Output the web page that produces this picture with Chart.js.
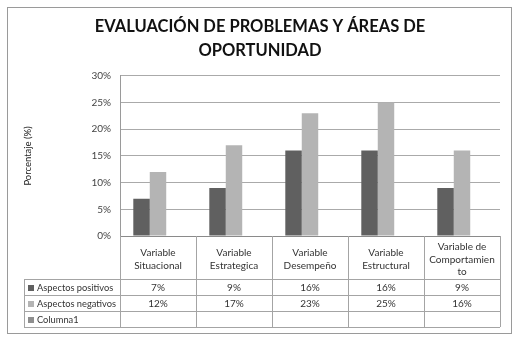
<!DOCTYPE html>
<html>
<head>
<meta charset="utf-8">
<script src="https://cdn.jsdelivr.net/npm/chart.js@4"></script>
<style>
  body { margin: 0; background: #fff; }
  canvas { display: block; }
</style>
</head>
<body>
<canvas id="chart" width="519" height="342"></canvas>
<script>
// Chart data
const categories = [
    ['Variable', 'Situacional'],
    ['Variable', 'Estrategica'],
    ['Variable', 'Desempeño'],
    ['Variable', 'Estructural'],
    ['Variable de', 'Comportamien', 'to']
];
const seriesNames = ['Aspectos positivos', 'Aspectos negativos', 'Columna1'];
const positivos = [7, 9, 16, 16, 9];
const negativos = [12, 17, 23, 25, 16];
const columna1 = [null, null, null, null, null];
const seriesColors = ['#606060', '#b4b4b4', '#8e8e8e'];
const yMin = 0, yMax = 30, yStep = 5;

const FONT = 'Lato, "Liberation Sans", sans-serif';

// White background and outer frame
const framePlugin = {
    id: 'frame',
    beforeDraw(chart) {
        const ctx = chart.ctx;
        ctx.save();
        ctx.fillStyle = '#fff';
        ctx.fillRect(0, 0, chart.width, chart.height);
        ctx.strokeStyle = '#9a9a9a';
        ctx.lineWidth = 1;
        ctx.strokeRect(7.5, 7.5, 504, 326);
        ctx.restore();
    }
};

// Data table under the x axis
const tablePlugin = {
    id: 'dataTable',
    afterDraw(chart) {
        const ctx = chart.ctx;
        const x = chart.scales.x;
        const n = chart.data.labels.length;
        const colW = (x.right - x.left) / n;
        const rowH = 16;
        const legendLeft = 24;
        const sets = chart.data.datasets;
        const tableBottom = x.bottom + rowH * sets.length;

        ctx.save();
        ctx.strokeStyle = '#a4a4a4';
        ctx.lineWidth = 1;
        ctx.beginPath();
        // vertical lines
        for (let i = 0; i <= n; i++) {
            const px = Math.round(x.left + i * colW) + 0.5;
            ctx.moveTo(px, x.top);
            ctx.lineTo(px, tableBottom);
        }
        ctx.moveTo(legendLeft + 0.5, x.bottom);
        ctx.lineTo(legendLeft + 0.5, tableBottom);
        // horizontal lines
        for (let r = 0; r <= sets.length; r++) {
            const py = Math.round(x.bottom + r * rowH) + 0.5;
            ctx.moveTo(legendLeft, py);
            ctx.lineTo(x.right, py);
        }
        ctx.stroke();

        ctx.textBaseline = 'middle';
        sets.forEach((ds, r) => {
            const cy = x.bottom + r * rowH + rowH / 2 + 0.5;
            // legend key
            ctx.fillStyle = ds.backgroundColor;
            ctx.fillRect(28, Math.round(cy - 3), 6, 6);
            ctx.fillStyle = '#333';
            ctx.font = '9.3px ' + FONT;
            ctx.textAlign = 'left';
            ctx.fillText(ds.label, 37, cy);
            // values
            ctx.font = '10px ' + FONT;
            ctx.textAlign = 'center';
            ds.data.forEach((v, i) => {
                if (v === null) return;
                ctx.fillText(v + '%', x.getPixelForValue(i), cy);
            });
        });
        ctx.restore();
    }
};

new Chart(document.getElementById('chart'), {
    type: 'bar',
    data: {
        labels: categories,
        datasets: [
            { label: seriesNames[0], data: positivos, backgroundColor: seriesColors[0] },
            { label: seriesNames[1], data: negativos, backgroundColor: seriesColors[1] },
            { label: seriesNames[2], data: columna1, backgroundColor: seriesColors[2] }
        ]
    },
    options: {
        responsive: false,
        animation: false,
        devicePixelRatio: 1,
        categoryPercentage: 0.65,
        barPercentage: 1,
        layout: { padding: { top: 0, left: 20, right: 19, bottom: 63 } },
        plugins: {
            legend: { display: false },
            tooltip: { enabled: false },
            title: {
                display: true,
                text: ['EVALUACIÓN DE PROBLEMAS Y ÁREAS DE', 'OPORTUNIDAD'],
                color: '#111',
                font: { family: FONT, size: 16.5, weight: 'bold', lineHeight: 1.45 },
                padding: { top: 15, bottom: 13 }
            }
        },
        scales: {
            x: {
                grid: { display: false },
                border: { color: '#8a8a8a' },
                ticks: {
                    color: '#333',
                    font: { family: FONT, size: 10, lineHeight: 1.25 },
                    crossAlign: 'center',
                    maxRotation: 0,
                    autoSkip: false,
                    padding: 3
                },
                afterFit(scale) { scale.height = 43; }
            },
            y: {
                min: yMin,
                max: yMax,
                grid: { color: '#aaaaaa', drawTicks: false },
                border: { color: '#9a9a9a' },
                ticks: {
                    stepSize: yStep,
                    color: '#444',
                    padding: 9,
                    font: { family: FONT, size: 10 },
                    callback: v => v + '%'
                },
                title: {
                    display: true,
                    text: 'Porcentaje (%)',
                    color: '#222',
                    font: { family: FONT, size: 9.5 },
                    padding: { top: 2, bottom: 0 }
                },
                afterFit(scale) { scale.width = 100; }
            }
        }
    },
    plugins: [framePlugin, tablePlugin]
});
</script>
</body>
</html>
